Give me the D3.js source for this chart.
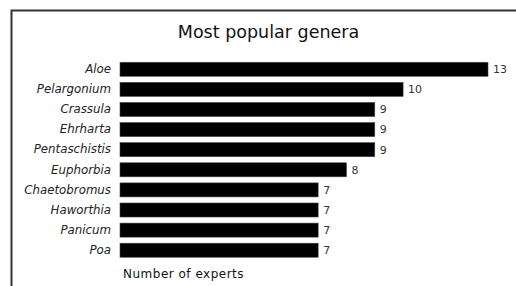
<!DOCTYPE html>
<html>
<head>
<meta charset="utf-8">
<script src="https://cdn.jsdelivr.net/npm/d3@7"></script>
<style>
  html, body { margin: 0; padding: 0; background: #fff; }
  svg { display: block; }
</style>
</head>
<body>
<script>
const genera = ["Aloe", "Pelargonium", "Crassula", "Ehrharta", "Pentaschistis", "Euphorbia", "Chaetobromus", "Haworthia", "Panicum", "Poa"];
const experts = [13, 10, 9, 9, 9, 8, 7, 7, 7, 7];
const titleText = "Most popular genera";
const axisTitle = "Number of experts";

const W = 516, H = 286;
const svg = d3.select("body").append("svg").attr("width", W).attr("height", H);

// frame (extends beyond the picture on right and bottom)
svg.append("rect")
  .attr("x", 11.5).attr("y", 10.5)
  .attr("width", W + 20).attr("height", H + 20)
  .attr("fill", "#fff").attr("stroke", "#333").attr("stroke-width", 2);

const x = d3.scaleLinear().domain([0, 13]).range([120, 488]);
const y = d3.scaleBand().domain(genera).range([59.25, 260.25]).paddingInner(0.303).paddingOuter(0.15);

svg.append("text")
  .attr("x", 268.5).attr("y", 38)
  .attr("text-anchor", "middle")
  .attr("font-family", "DejaVu Sans, Verdana, sans-serif")
  .attr("font-size", 17.5)
  .attr("fill", "#111")
  .text(titleText);

const data = genera.map((g, i) => ({ g, v: experts[i] }));

svg.append("g").selectAll("rect").data(data).join("rect")
  .attr("x", x(0))
  .attr("y", d => y(d.g))
  .attr("width", d => x(d.v) - x(0))
  .attr("height", y.bandwidth())
  .attr("fill", "#000")
  .attr("stroke", "#444").attr("stroke-width", 0.6);

const yAxis = d3.axisLeft(y).tickSize(0).tickPadding(9);
const ga = svg.append("g").attr("transform", `translate(${x(0)},0)`).call(yAxis);
ga.select(".domain").remove();
ga.selectAll("text")
  .attr("font-family", "DejaVu Sans, Verdana, sans-serif")
  .attr("font-size", 11.8)
  .attr("font-style", "italic")
  .attr("fill", "#222");

svg.append("g").selectAll("text").data(data).join("text")
  .attr("x", d => x(d.v) + 5)
  .attr("y", d => y(d.g) + y.bandwidth() / 2)
  .attr("dy", "0.35em")
  .attr("font-family", "DejaVu Sans, Verdana, sans-serif")
  .attr("font-size", 11)
  .attr("fill", "#333")
  .text(d => d.v);

svg.append("text")
  .attr("x", 123).attr("y", 278)
  .attr("font-family", "DejaVu Sans, Verdana, sans-serif")
  .attr("font-size", 12)
  .attr("letter-spacing", 0.5)
  .attr("fill", "#111")
  .text(axisTitle);
</script>
</body>
</html>
